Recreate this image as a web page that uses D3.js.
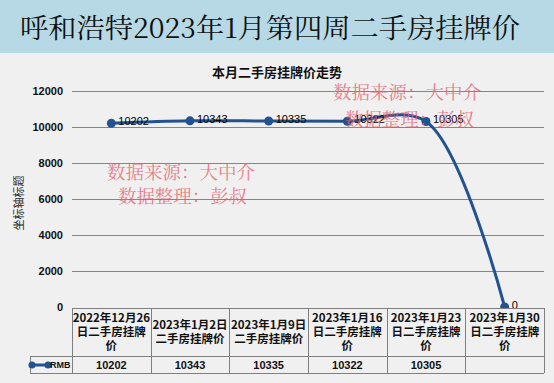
<!DOCTYPE html>
<html><head><meta charset="utf-8">
<script src="https://cdn.jsdelivr.net/npm/d3@7"></script>
<style>html,body{margin:0;padding:0;background:#f0f0f0;}svg{display:block;}</style>
</head><body>
<svg id="c" width="554" height="383"></svg>
<script>
const categories = [
  ["2022年12月26","日二手房挂牌","价"],
  ["2023年1月2日","二手房挂牌价"],
  ["2023年1月9日","二手房挂牌价"],
  ["2023年1月16","日二手房挂牌","价"],
  ["2023年1月23","日二手房挂牌","价"],
  ["2023年1月30","日二手房挂牌","价"]
];
const values = [10202, 10343, 10335, 10322, 10305, 0];
const seriesName = "RMB";
const yTicks = [0, 2000, 4000, 6000, 8000, 10000, 12000];
const title = "呼和浩特2023年1月第四周二手房挂牌价";
const chartTitle = "本月二手房挂牌价走势";
const yTitle = "坐标轴标题";
const watermarks = [
  ["数据来源：大中介", "数据整理：彭叔"],
  ["数据来源：大中介", "数据整理：彭叔"]
];

(function () {
const svg = d3.select("#c");
const W = 554, H = 383;
svg.append("rect").attr("width", W).attr("height", H).attr("fill", "#f0f0f0");
// title bar
svg.append("rect").attr("x", 0).attr("y", 0).attr("width", W).attr("height", 53).attr("fill", "#b6d9e5");
svg.append("text").attr("x", 20).attr("y", 38)
  .attr("font-family", "'Noto Serif CJK SC','Noto Sans CJK SC',serif")
  .attr("font-size", 27).attr("fill", "#111")
  .attr("textLength", 500).attr("lengthAdjust", "spacingAndGlyphs")
  .text(title);

svg.append("text").attr("x", 277).attr("y", 77).attr("text-anchor", "middle")
  .attr("font-family", "'Noto Sans CJK SC',sans-serif").attr("font-weight", "bold")
  .attr("font-size", 13).attr("fill", "#111").text(chartTitle);

const pL = 72, pR = 544, pT = 91, pB = 307;
const x = d3.scaleBand().domain(d3.range(values.length)).range([pL, pR]).padding(0);
const y = d3.scaleLinear().domain([0, 12000]).range([pB, pT]);

// gridlines
svg.append("g").selectAll("line").data(yTicks.filter(d => d > 0)).join("line")
  .attr("x1", pL).attr("x2", pR)
  .attr("y1", d => Math.round(y(d)) + 0.5).attr("y2", d => Math.round(y(d)) + 0.5)
  .attr("stroke", "#858585").attr("stroke-width", 1);

// y axis labels
const yAxis = d3.axisLeft(y).tickValues(yTicks).tickFormat(d3.format("d")).tickSize(0).tickPadding(9);
const ga = svg.append("g").attr("transform", `translate(${pL},0)`).call(yAxis);
ga.select(".domain").remove();
ga.selectAll("text").attr("font-family", "Arial, 'Liberation Sans', sans-serif")
  .attr("font-size", 11).attr("font-weight", "bold").attr("fill", "#111");

svg.append("text").attr("transform", "translate(23,203) rotate(-90)").attr("text-anchor", "middle")
  .attr("font-family", "'Noto Sans CJK SC',sans-serif").attr("font-size", 11).attr("fill", "#222")
  .text(yTitle);

const cx = i => x(i) + x.bandwidth() / 2;
const color = "#22528f";
const line = d3.line().x((d, i) => cx(i)).y(d => y(d)).curve(d3.curveCatmullRom.alpha(0.5));
svg.append("path").datum(values).attr("d", line).attr("fill", "none")
  .attr("stroke", color).attr("stroke-width", 3);
svg.append("g").selectAll("circle").data(values).join("circle")
  .attr("cx", (d, i) => cx(i)).attr("cy", d => y(d)).attr("r", 4.5).attr("fill", color);
svg.append("g").selectAll("text").data(values).join("text")
  .attr("x", (d, i) => cx(i) + 7).attr("y", d => y(d) - 2).attr("dy", "0.35em")
  .attr("font-family", "Arial, 'Liberation Sans', sans-serif").attr("font-size", 11)
  .attr("fill", "#000").text(d => d);

// watermarks
const wmPos = [[107, 173, 118, 197], [333, 93, 345, 120]];
watermarks.forEach((wm, k) => {
  const p = wmPos[k];
  [[wm[0], p[0], p[1], 148], [wm[1], p[2], p[3], 129]].forEach(([t, tx, ty, tl]) => {
    svg.append("text").attr("x", tx).attr("y", ty).attr("dy", "0.35em")
      .attr("font-family", "'Noto Serif CJK SC','Noto Sans CJK SC',serif")
      .attr("font-size", 18).attr("fill", "#e5606e").attr("fill-opacity", 0.8)
      .attr("textLength", tl).attr("lengthAdjust", "spacingAndGlyphs").text(t);
  });
});

// table
const tTop = 308, tMid = 356, tBot = 373, legL = 30;
const tg = svg.append("g");
tg.append("rect").attr("x", pL).attr("y", tTop).attr("width", pR - pL).attr("height", tMid - tTop)
  .attr("fill", "#f0f0f0");
tg.append("rect").attr("x", legL).attr("y", tMid).attr("width", pR - legL).attr("height", tBot - tMid)
  .attr("fill", "#f0f0f0");
const bc = "#7f7f7f";
tg.append("path").attr("fill", "none").attr("stroke", bc).attr("stroke-width", 1)
  .attr("d", [
    `M${pL},${tTop + 0.5}H${pR}`,
    `M${legL},${tMid + 0.5}H${pR}`,
    `M${legL},${tBot + 0.5}H${pR}`,
    `M${legL + 0.5},${tMid}V${tBot}`,
    ...d3.range(values.length + 1).map(i => {
      const xx = Math.round(i < values.length ? x(i) : pR) + 0.5;
      return `M${xx},${tTop}V${tBot}`;
    })
  ].join(""));
categories.forEach((lines, i) => {
  const lh = 14;
  const y0 = (tTop + tMid) / 2 - (lines.length - 1) * lh / 2;
  lines.forEach((t, j) => {
    tg.append("text").attr("x", cx(i)).attr("y", y0 + j * lh).attr("dy", "0.35em")
      .attr("text-anchor", "middle").attr("font-family", "'Noto Sans CJK SC',sans-serif")
      .attr("font-weight", "bold").attr("font-size", 11.5).attr("fill", "#111").text(t);
  });
});
tg.selectAll("text.v").data(values).join("text").attr("class", "v")
  .attr("x", (d, i) => cx(i)).attr("y", (tMid + tBot) / 2 + 1).attr("dy", "0.35em")
  .attr("text-anchor", "middle").attr("font-family", "Arial, 'Liberation Sans', sans-serif")
  .attr("font-weight", "bold").attr("font-size", 11).attr("fill", "#111")
  .text(d => d === 0 ? "" : d);
// legend key
const ly = (tMid + tBot) / 2 + 0.5;
tg.append("line").attr("x1", legL + 2).attr("x2", legL + 18).attr("y1", ly).attr("y2", ly)
  .attr("stroke", color).attr("stroke-width", 3);
tg.append("circle").attr("cx", legL + 2).attr("cy", ly).attr("r", 3.5).attr("fill", color);
tg.append("circle").attr("cx", legL + 18).attr("cy", ly).attr("r", 3.5).attr("fill", color);
tg.append("text").attr("x", legL + 20).attr("y", ly).attr("dy", "0.35em")
  .attr("font-family", "Arial, 'Liberation Sans', sans-serif").attr("font-weight", "bold")
  .attr("font-size", 9).attr("fill", "#111").text(seriesName);
})();
</script>
</body></html>
